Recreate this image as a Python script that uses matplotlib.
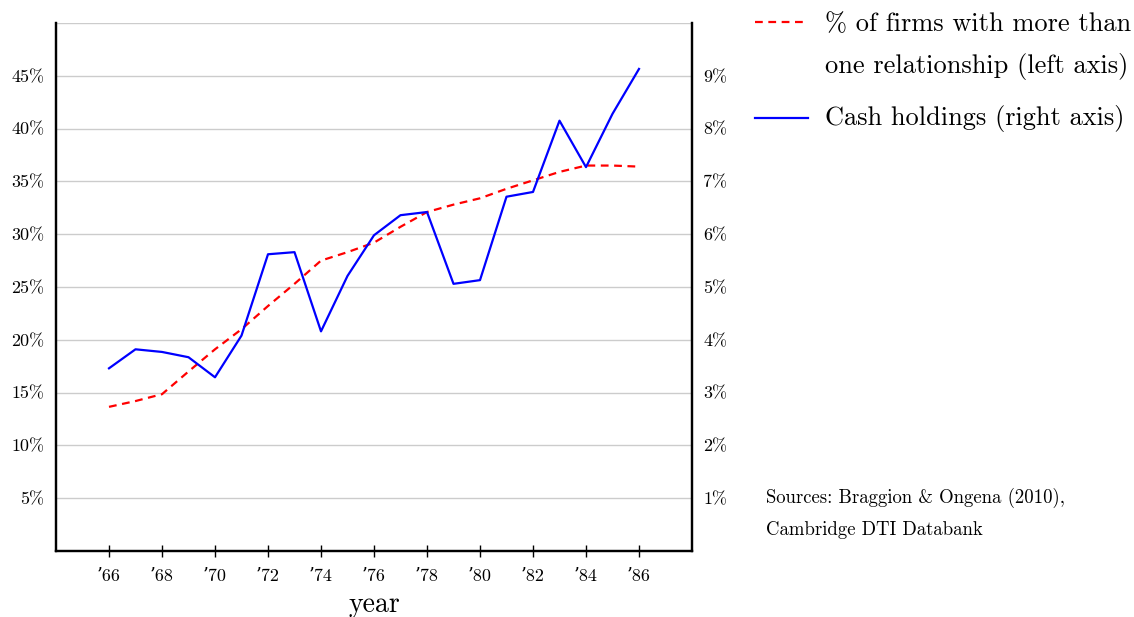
import matplotlib
matplotlib.use("Agg")
import matplotlib.pyplot as plt
from matplotlib.lines import Line2D

plt.rcParams['font.family'] = ['cmr10', 'DejaVu Serif']
plt.rcParams['axes.formatter.use_mathtext'] = True

years = list(range(1966, 1987))
pct_multi = [13.65, 14.2, 14.85, 17.0, 19.1, 21.0, 23.2, 25.3, 27.5, 28.3,
             29.2, 30.7, 32.1, 32.8, 33.4, 34.3, 35.1, 35.9, 36.5, 36.5, 36.4]
cash = [3.46, 3.82, 3.77, 3.67, 3.29, 4.08, 5.62, 5.66, 4.16, 5.21,
        5.98, 6.36, 6.42, 5.06, 5.13, 6.71, 6.80, 8.15, 7.27, 8.28, 9.13]

xticks = list(range(1966, 1987, 2))
xticklabels = ["\u2019%02d" % (y % 100) for y in xticks]
left_ticks = [5, 10, 15, 20, 25, 30, 35, 40, 45]
left_labels = ["%d%%" % v for v in left_ticks]
right_ticks = [1, 2, 3, 4, 5, 6, 7, 8, 9]
right_labels = ["%d%%" % v for v in right_ticks]

W, H = 1134, 617
fig = plt.figure(figsize=(W / 100, H / 100), dpi=100)
ax = fig.add_axes([56 / W, 1 - 551 / H, (692 - 56) / W, (551 - 23) / H])
ax2 = ax.twinx()

ax.set_xlim(1964, 1988)
ax.set_ylim(0, 50)
ax2.set_ylim(0, 10)

for y in [5, 10, 15, 20, 25, 30, 35, 40, 45, 50]:
    ax.axhline(y, color='#cccccc', lw=1.0, zorder=0)

ax.plot(years, pct_multi, color='#ff0000', lw=1.6, linestyle=(0, (3.5, 2.5)), zorder=3)
ax2.plot(years, cash, color='#0000ff', lw=1.6, zorder=3)

for a in (ax, ax2):
    a.spines['top'].set_visible(False)
    for s in ('left', 'right', 'bottom'):
        a.spines[s].set_linewidth(1.6)
        a.spines[s].set_color('black')

tick_fs = 13
ax.set_xticks(xticks)
ax.set_xticklabels(xticklabels, fontsize=tick_fs)
ax.tick_params(axis='x', direction='inout', length=9, width=1.0, pad=8)
ax.set_yticks(left_ticks)
ax.set_yticklabels(left_labels, fontsize=tick_fs)
ax.tick_params(axis='y', length=0, pad=8.5)
ax2.set_yticks(right_ticks)
ax2.set_yticklabels(right_labels, fontsize=tick_fs)
ax2.tick_params(axis='y', length=0, pad=8)

ax.set_xlabel("year", fontsize=20, labelpad=6)

# legend drawn manually
fig.add_artist(Line2D([755 / W, 808 / W], [1 - 22 / H, 1 - 22 / H], color='#ff0000',
                      lw=1.6, linestyle=(0, (3.5, 2.5)), transform=fig.transFigure))
fig.add_artist(Line2D([755 / W, 808 / W], [1 - 118 / H, 1 - 118 / H], color='#0000ff',
                      lw=1.6, transform=fig.transFigure))
leg_fs = 19
fig.text(825 / W, 1 - 24 / H, "% of firms with more than", fontsize=leg_fs, va='center', ha='left')
fig.text(825 / W, 1 - 66 / H, "one relationship (left axis)", fontsize=leg_fs, va='center', ha='left')
fig.text(825 / W, 1 - 119 / H, "Cash holdings (right axis)", fontsize=leg_fs, va='center', ha='left')

fig.text(766 / W, 1 - 498 / H, "Sources: Braggion & Ongena (2010),", fontsize=13.5, va='center', ha='left')
fig.text(766 / W, 1 - 530 / H, "Cambridge DTI Databank", fontsize=13.5, va='center', ha='left')

fig.savefig("out.png", dpi=100)
